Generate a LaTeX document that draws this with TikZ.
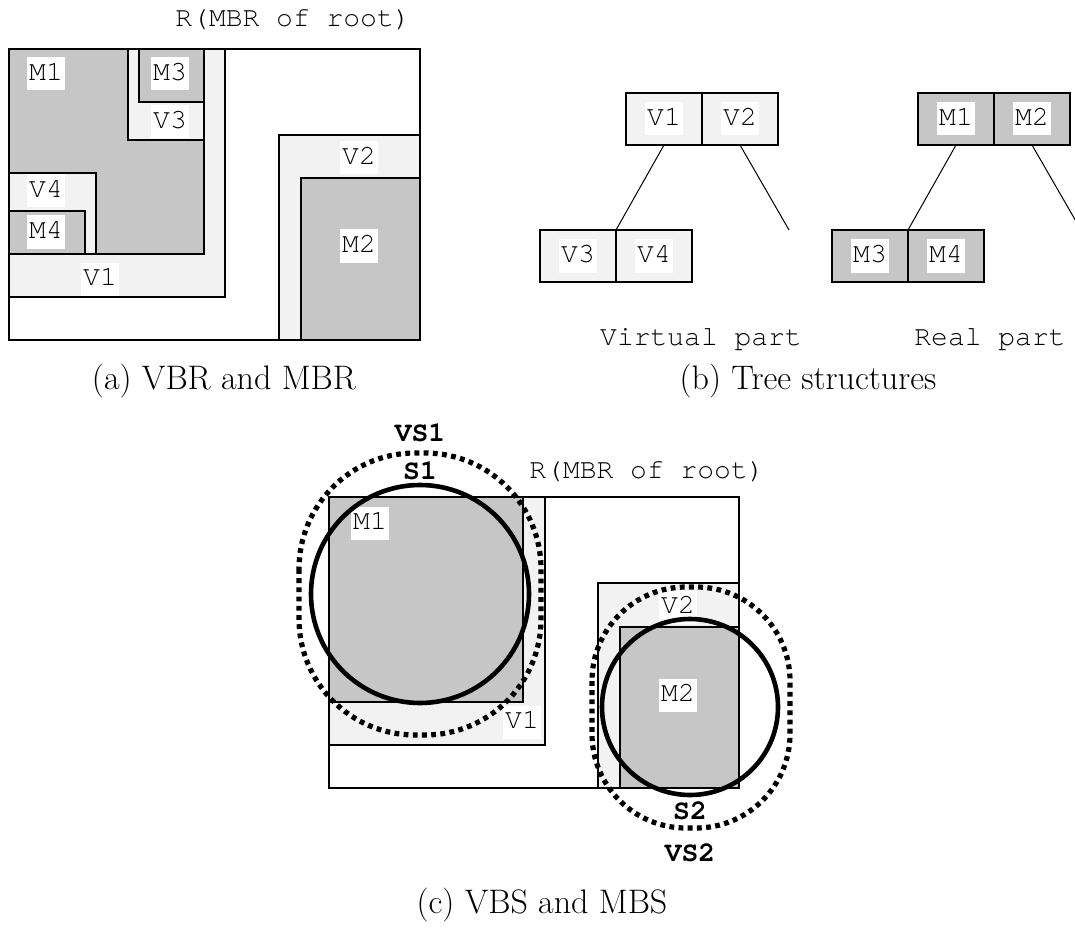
\documentclass[tikz,border=0pt]{standalone}
\usepackage{fontspec}
\setmonofont{texgyrecursor}[Extension=.otf, UprightFont=*-regular, BoldFont=*-bold]
\usetikzlibrary{positioning}
\definecolor{vfill}{HTML}{F2F2F2}
\definecolor{mfill}{HTML}{C6C6C6}
\tikzset{
  rootbox/.style={draw=black, fill=white, line width=0.6pt},
  vbr/.style={draw=black, fill=vfill, line width=0.6pt},
  mbr/.style={draw=black, fill=mfill, line width=0.6pt},
  tag/.style={fill=white, inner xsep=1pt, inner ysep=1.5pt,
    text height=10pt, text depth=3.5pt,
    font=\ttfamily\fontsize{14}{16}\selectfont},
  plaintag/.style={inner sep=0pt, font=\ttfamily\fontsize{14}{16}\selectfont},
  boldtag/.style={inner sep=0pt, font=\ttfamily\bfseries\fontsize{14}{16}\selectfont},
  caption/.style={inner sep=0pt, font=\fontsize{17}{20}\selectfont},
  cell/.style={draw=black, line width=0.6pt, minimum width=38pt,
    minimum height=26pt, inner sep=0pt, outer sep=0pt},
  vcell/.style={cell, fill=vfill},
  mcell/.style={cell, fill=mfill},
  treeline/.style={line width=0.5pt},
  sphere/.style={line width=2.3pt},
  vsphere/.style={line width=2.6pt, dash pattern=on 2.4pt off 2.2pt},
}
\begin{document}
\begin{tikzpicture}[x=0.5pt,y=-0.5pt]
\useasboundingbox (0,0) rectangle (1075,936);

% (a) VBR and MBR
\draw[rootbox] (9,49) rectangle (420,340);
\draw[vbr] (9,49) rectangle (225,297);
\draw[mbr] (9,49) rectangle (204,254);
\draw[vbr] (128,49) rectangle (204,140);
\draw[mbr] (139,49) rectangle (204,102);
\draw[vbr] (9,173) rectangle (96,254);
\draw[mbr] (9,211) rectangle (85,254);
\draw[vbr] (279,135) rectangle (420,340);
\draw[mbr] (301,178) rectangle (420,340);
\node[plaintag] (a-root) at (293,20) {R(MBR of root)};
\node[tag] (a-m1) at (46,74) {M1};
\node[tag] (a-m3) at (170,74) {M3};
\node[tag] (a-v3) at (170,122) {V3};
\node[tag] (a-v4) at (46,191) {V4};
\node[tag] (a-m4) at (46,232) {M4};
\node[tag] (a-v1) at (100,279) {V1};
\node[tag] (a-v2) at (359,158) {V2};
\node[tag] (a-m2) at (359,246) {M2};
\node[caption] (cap-a) at (224,381) {(a) VBR and MBR};

% (b) Tree structures
\node[vcell] (v1) at (664,119) {};
\node[vcell, right=0pt of v1] (v2) {};
\node[vcell] (v3) at (578,256) {};
\node[vcell, right=0pt of v3] (v4) {};
\node[mcell] (m1) at (956,119) {};
\node[mcell, right=0pt of m1] (m2) {};
\node[mcell] (m3) at (870,256) {};
\node[mcell, right=0pt of m3] (m4) {};
\foreach \n/\t in {v1/V1,v2/V2,v3/V3,v4/V4,m1/M1,m2/M2,m3/M3,m4/M4}
  \node[tag] (\n-tag) at (\n) {\t};
\coordinate (v2-end) at (789,230);
\coordinate (m2-end) at (1081,230);
\draw[treeline] (v1.south) -- (v3.north east);
\draw[treeline] (v2.south) -- (v2-end);
\draw[treeline] (m1.south) -- (m3.north east);
\draw[treeline] (m2.south) -- (m2-end);
\node[plaintag] (virtual) at (701,340) {Virtual part};
\node[plaintag] (real) at (990,340) {Real part};
\node[caption] (cap-b) at (808,381) {(b) Tree structures};

% (c) VBS and MBS
\draw[rootbox] (329,497) rectangle (739,788);
\draw[vbr] (329,497) rectangle (545,745);
\draw[mbr] (329,497) rectangle (523,702);
\draw[vbr] (598,583) rectangle (739,788);
\draw[mbr] (620,627) rectangle (739,788);
\node[plaintag] (c-root) at (647,472) {R(MBR of root)};
\node[tag] (c-m1) at (370,523) {M1};
\node[tag] (c-v1) at (522,722) {V1};
\node[tag] (c-v2) at (678,607) {V2};
\node[tag] (c-m2) at (678,695) {M2};
\draw[sphere] (420,594) circle[radius=109];
\draw[vsphere, rounded corners=58pt] (299,453) rectangle (541,735);
\draw[sphere] (690,707) circle[radius=88];
\draw[vsphere, rounded corners=47pt] (592,587) rectangle (790,828);
\node[boldtag] (vs1) at (420,433) {VS1};
\node[boldtag] (s1) at (420,471) {S1};
\node[boldtag] (s2) at (690,811) {S2};
\node[boldtag] (vs2) at (690,853) {VS2};
\node[caption] (cap-c) at (542,905) {(c) VBS and MBS};
\end{tikzpicture}
\end{document}
